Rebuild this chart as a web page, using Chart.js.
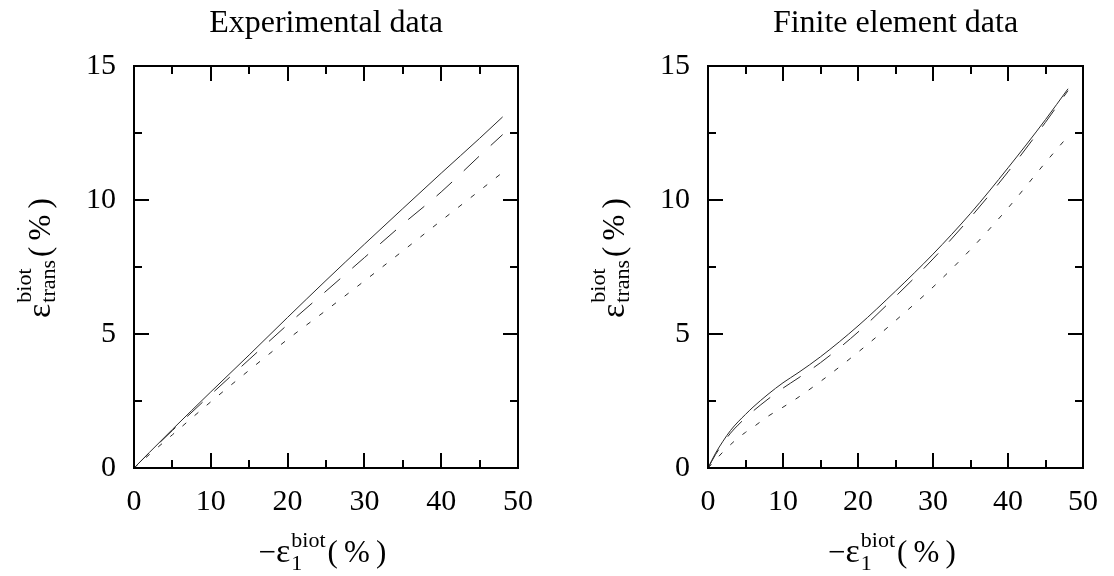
<!DOCTYPE html>
<html>
<head>
<meta charset="utf-8">
<script src="https://cdn.jsdelivr.net/npm/chart.js@4/dist/chart.umd.min.js"></script>
<style>
  html, body { margin: 0; padding: 0; background: #fff; }
  #wrap { position: relative; width: 1114px; height: 576px; overflow: hidden; }
  canvas { position: absolute; top: 0; }
  #expChart { left: 0; }
  #feChart { left: 557px; }
</style>
</head>
<body>
<div id="wrap">
  <canvas id="expChart" width="557" height="576"></canvas>
  <canvas id="feChart" width="557" height="576"></canvas>
</div>
<script>
// Axis ticks (major); minor ticks sit halfway between them
const xTicks = [0, 10, 20, 30, 40, 50];
const yTicks = [0, 5, 10, 15];

// Experimental data: -eps1 (%) against transverse strain (%)
const expStrain = [0, 2, 5, 10, 15, 20, 25, 30, 35, 40, 45, 48];
const expSolid  = [0, 0.58, 1.44, 2.84, 4.22, 5.62, 7.0, 8.35, 9.68, 11.0, 12.3, 13.1];
const expDashed = [0, 0.57, 1.40, 2.74, 4.05, 5.35, 6.6, 7.85, 9.1, 10.3, 11.65, 12.44];
const expDotted = [0, 0.50, 1.24, 2.47, 3.65, 4.8, 5.88, 6.98, 8.1, 9.23, 10.35, 11.03];

// Finite element data
const feStrain = [0, 1, 2, 3, 4, 5, 6, 8, 10, 12, 15, 20, 25, 30, 35, 40, 45, 48];
const feSolid  = [0, 0.55, 1.0, 1.4, 1.72, 2.0, 2.27, 2.75, 3.18, 3.55, 4.15, 5.3, 6.6, 7.98, 9.5, 11.2, 13.0, 14.15];
const feDashed = [0, 0.5, 0.92, 1.3, 1.6, 1.87, 2.12, 2.57, 2.98, 3.35, 3.93, 5.07, 6.4, 7.8, 9.35, 11.05, 12.9, 14.08];
const feDotted = [0, 0.3, 0.6, 0.87, 1.12, 1.33, 1.52, 1.93, 2.27, 2.63, 3.23, 4.32, 5.5, 6.75, 8.15, 9.7, 11.4, 12.38];

const SERIF = "'Liberation Serif', 'Times New Roman', serif";
const LINE_DASH = [21, 16];
const DOT_DASH = [5, 11];
const PCT = '(\u2009%\u2009)';

// Draws the boxed frame, inward ticks on all four sides, title and axis titles
const framePlugin = {
  id: 'frame',
  afterDraw(chart, args, opts) {
    const { ctx, chartArea: a, scales: { x, y } } = chart;
    ctx.save();
    ctx.strokeStyle = '#000';
    ctx.lineWidth = 2;
    ctx.beginPath();
    const xs = [];
    xTicks.forEach((v, i) => {
      xs.push([v, 15]);
      if (i < xTicks.length - 1) xs.push([(v + xTicks[i + 1]) / 2, 8]);
    });
    xs.forEach(([v, len]) => {
      const px = Math.round(x.getPixelForValue(v));
      ctx.moveTo(px, a.bottom); ctx.lineTo(px, a.bottom - len);
      ctx.moveTo(px, a.top); ctx.lineTo(px, a.top + len);
    });
    const ys = [];
    yTicks.forEach((v, i) => {
      ys.push([v, 15]);
      if (i < yTicks.length - 1) ys.push([(v + yTicks[i + 1]) / 2, 8]);
    });
    ys.forEach(([v, len]) => {
      const py = Math.round(y.getPixelForValue(v));
      ctx.moveTo(a.left, py); ctx.lineTo(a.left + len, py);
      ctx.moveTo(a.right, py); ctx.lineTo(a.right - len, py);
    });
    ctx.stroke();
    ctx.strokeRect(a.left, a.top, a.right - a.left, a.bottom - a.top);

    ctx.fillStyle = '#000';
    ctx.textBaseline = 'alphabetic';

    // Title
    ctx.font = `32px ${SERIF}`;
    ctx.textAlign = 'center';
    ctx.fillText(opts.title, (a.left + a.right) / 2, 32);

    const main = `31px ${SERIF}`, greek = `34px ${SERIF}`, small = `22px ${SERIF}`;
    ctx.textAlign = 'left';

    // x-axis title: -eps_1^biot (%)
    ctx.font = main; const m1 = ctx.measureText('\u2212').width;
    ctx.font = greek; const g1 = ctx.measureText('\u03B5').width;
    ctx.font = small; const s1 = ctx.measureText('biot').width;
    ctx.font = main; const p1 = ctx.measureText(PCT).width;
    let sx = (a.left + a.right) / 2 - (m1 + g1 + s1 + p1) / 2 - 5;
    const bx = 562;
    ctx.font = main; ctx.fillText('\u2212', sx, bx);
    ctx.font = greek; ctx.fillText('\u03B5', sx + m1, bx);
    ctx.font = small;
    ctx.fillText('biot', sx + m1 + g1 + 1, bx - 15);
    ctx.fillText('1', sx + m1 + g1 + 1, bx + 8);
    ctx.font = main; ctx.fillText(PCT, sx + m1 + g1 + s1 + 3, bx);

    // y-axis title: eps_trans^biot (%), rotated
    ctx.save();
    ctx.translate(a.left - 84, 318);
    ctx.rotate(-Math.PI / 2);
    ctx.font = greek;
    const e1 = ctx.measureText('\u03B5').width;
    ctx.fillText('\u03B5', 0, 0);
    ctx.font = small;
    const e2 = Math.max(ctx.measureText('biot').width, ctx.measureText('trans').width);
    ctx.fillText('biot', e1 + 1, -19);
    ctx.fillText('trans', e1 + 1, 5);
    ctx.font = main;
    ctx.fillText(PCT, e1 + e2 + 4, 0);
    ctx.restore();

    ctx.restore();
  }
};

function series(xv, yv, dash) {
  return {
    data: xv.map((v, i) => ({ x: v, y: yv[i] })),
    borderColor: '#2a2a2a',
    borderWidth: 1,
    borderDash: dash,
    pointRadius: 0,
    fill: false,
    cubicInterpolationMode: 'monotone'
  };
}

function makeChart(id, title, xv, lines, yAxisWidth, rightPad) {
  const tickFont = { family: SERIF, size: 30 };
  return new Chart(document.getElementById(id), {
    type: 'line',
    data: {
      datasets: [
        series(xv, lines[0], []),
        series(xv, lines[1], LINE_DASH),
        series(xv, lines[2], DOT_DASH)
      ]
    },
    options: {
      responsive: false,
      animation: false,
      events: [],
      layout: { padding: { left: 0, right: rightPad, top: 66, bottom: 0 } },
      plugins: {
        legend: { display: false },
        tooltip: { enabled: false },
        title: { display: false },
        frame: { title }
      },
      scales: {
        x: {
          type: 'linear', min: xTicks[0], max: xTicks[xTicks.length - 1],
          grid: { display: false, drawTicks: false }, border: { display: false },
          ticks: { stepSize: 10, font: tickFont, color: '#000', padding: 16, maxRotation: 0, autoSkip: false },
          afterFit(s) { s.height = 108; }
        },
        y: {
          type: 'linear', min: yTicks[0], max: yTicks[yTicks.length - 1],
          grid: { display: false, drawTicks: false }, border: { display: false },
          ticks: { stepSize: 5, font: tickFont, color: '#000', padding: 18, autoSkip: false },
          afterFit(s) { s.width = yAxisWidth; }
        }
      }
    },
    plugins: [framePlugin]
  });
}

makeChart('expChart', 'Experimental data', expStrain, [expSolid, expDashed, expDotted], 134, 39);
makeChart('feChart', 'Finite element data', feStrain, [feSolid, feDashed, feDotted], 151, 22);
</script>
</body>
</html>
